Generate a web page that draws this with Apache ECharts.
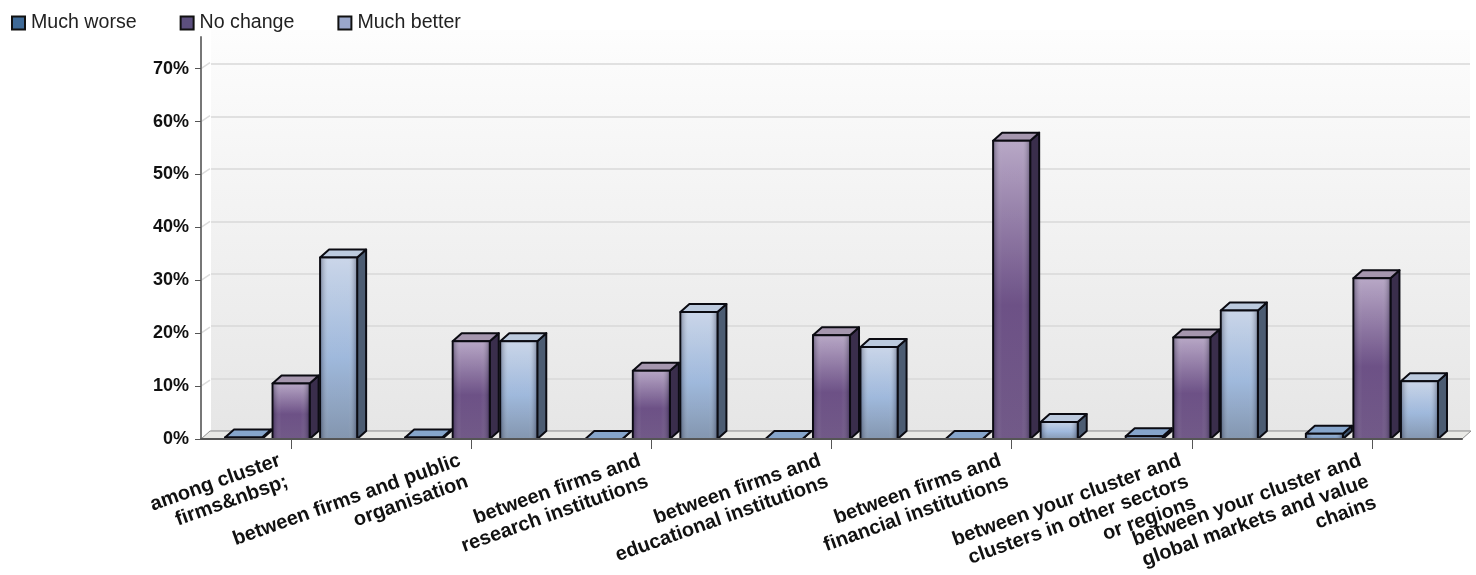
<!DOCTYPE html>
<html><head><meta charset="utf-8">
<style>html,body{margin:0;padding:0;background:#fff}#c{width:1476px;height:575px}</style>
<script src="https://cdn.jsdelivr.net/npm/echarts@6/dist/echarts.min.js"></script>
</head><body><div id="c"></div>
<script>
const categories = [
  "among cluster\nfirms&nbsp;",
  "between firms and public\norganisation",
  "between firms and\nresearch institutions",
  "between firms and\neducational institutions",
  "between firms and\nfinancial institutions",
  "between your cluster and\nclusters in other sectors\nor regions",
  "between your cluster and\nglobal markets and value\nchains"
];
const muchWorse  = [0.3, 0.3, 0, 0, 0, 0.5, 1];
const noChange   = [10.5, 18.5, 12.9, 19.6, 56.4, 19.2, 30.4];
const muchBetter = [34.3, 18.5, 24, 17.4, 3.2, 24.3, 10.9];
const yTicks = [0, 10, 20, 30, 40, 50, 60, 70];

const DX = 9, DY = 8;
const palettes = {
  worse: {legend:'#3f6a97', stops:['#a9c0dc','#7f9fc8','#6d8cb4'], top:'#86a5cb', side:'#3f556f'},
  same:  {legend:'#5c4f7e', stops:['#b5a4c4','#654880','#6a5182'], top:'#a596ae', side:'#3a2e4c'},
  better:{legend:'#9aa7cb', stops:['#c8d4e8','#9ab5da','#7d90aa'], top:'#bccade', side:'#4c5c72'}
};
function bar3d(offsetRatio, pal){
  return function(params, api){
    const cat = api.value(0), val = api.value(1);
    const base = api.coord([cat, 0]), top = api.coord([cat, val]);
    const band = api.size([1,0])[0];
    const w = band * 0.2056;
    const x = base[0] + band * offsetRatio - w/2;
    const y0 = base[1], y1 = top[1];
    const st = {stroke:'#0b0b12', lineWidth:2, lineJoin:'round'};
    const kids = [
      {type:'polygon', shape:{points:[[x+w,y1],[x+w+DX,y1-DY],[x+w+DX,y0-DY],[x+w,y0]]}, style:Object.assign({fill:pal.side},st)},
      {type:'polygon', shape:{points:[[x,y1],[x+DX,y1-DY],[x+w+DX,y1-DY],[x+w,y1]]}, style:Object.assign({fill:pal.top},st)},
      {type:'rect', shape:{x:x,y:y1,width:w,height:y0-y1}, style:Object.assign({fill:{type:'linear',x:0,y:0,x2:0,y2:1,colorStops:[
        {offset:0,color:pal.stops[0]},{offset:0.55,color:pal.stops[1]},{offset:1,color:pal.stops[2]}]}},st)},
      {type:'rect', shape:{x:x+1,y:y1+1,width:Math.max(w-2,0),height:Math.max(y0-y1-2,0)}, style:{fill:{type:'linear',x:0,y:0,x2:1,y2:0,colorStops:[
        {offset:0,color:'rgba(30,30,50,0.32)'},{offset:0.22,color:'rgba(255,255,255,0.05)'},{offset:0.78,color:'rgba(255,255,255,0.05)'},{offset:1,color:'rgba(30,30,50,0.32)'}]}}}
    ];
    return {type:'group', children:kids};
  };
}
function seriesOf(name, values, off, pal){
  return {name, type:'custom', xAxisIndex:0, yAxisIndex:0, z:5,
    itemStyle:{color:pal.legend, borderColor:'#111', borderWidth:1.5},
    encode:{x:0,y:1}, data:values.map((v,i)=>[i,v]), renderItem:bar3d(off,pal), silent:true};
}
function floorItem(params, api){
  const cs = params.coordSys;
  const y0 = api.coord([0,0])[1];
  const xl = cs.x, xr = cs.x + cs.width;
  const kids = [
    {type:'polygon', shape:{points:[[xl,y0],[xl+DX,y0-DY],[xr+DX,y0-DY],[xr,y0]]}, style:{fill:'#e9e9e6', stroke:'#8f8f8f', lineWidth:1}}
  ];
  yTicks.slice(1).forEach(t=>{
    const y = api.coord([0,t])[1];
    kids.push({type:'line', shape:{x1:xl,y1:y,x2:xl+DX,y2:y-DY+2}, style:{stroke:'#dcdcdc', lineWidth:1.5}});
  });
  return {type:'group', children:kids};
}
const chart = echarts.init(document.getElementById('c'), null, {renderer:'canvas'});
chart.setOption({
  animation:false,
  backgroundColor:'#fff',
  legend:{left:6, top:8, icon:'rect', itemWidth:13, itemHeight:13, itemGap:43, selectedMode:false,
    data:['Much worse','No change','Much better'],
    textStyle:{fontFamily:'Liberation Sans', fontSize:19.6, color:'#222', padding:[1,0,0,1]}},
  grid:[
    {left:201, top:37, width:1261, height:402, z:2, outerBoundsMode:'none'},
    {left:211, top:30, width:1259, height:401, show:true, borderWidth:0, z:0, outerBoundsMode:'none',
      backgroundColor:{type:'linear',x:0,y:0,x2:0,y2:1,colorStops:[{offset:0,color:'#fdfdfd'},{offset:1,color:'#e6e6e6'}]}}
  ],
  xAxis:[
    {type:'category', gridIndex:0, data:categories, boundaryGap:true, z:6,
     axisLine:{show:true, lineStyle:{color:'#555', width:2}},
     axisTick:{show:true, alignWithLabel:true, length:10, lineStyle:{color:'#555', width:1}},
     axisLabel:{interval:0, rotate:19.5, margin:5, padding:[0,16,0,0], hideOverlap:false, align:'right', verticalAlign:'top', fontFamily:'Liberation Sans', fontWeight:'bold', fontSize:20, lineHeight:22.5, color:'#111'}},
    {type:'category', gridIndex:1, data:categories, show:false}
  ],
  yAxis:[
    {type:'value', gridIndex:0, min:0, max:76, interval:10, z:6,
     axisLine:{show:true, lineStyle:{color:'#777', width:2}},
     axisTick:{show:true, length:6, lineStyle:{color:'#555', width:1}},
     splitLine:{show:false},
     axisLabel:{showMaxLabel:false, margin:12, formatter:v=>v+'%', fontFamily:'Liberation Sans', fontWeight:'bold', fontSize:18, color:'#111'}},
    {type:'value', gridIndex:1, min:0, max:76.5, interval:10,
     axisLine:{show:false}, axisTick:{show:false}, axisLabel:{show:false},
     splitLine:{show:true, showMaxLine:false, lineStyle:{color:'#d8d8d8', width:1.5}}}
  ],
  series:[
    {type:'custom', name:'floor', xAxisIndex:0, yAxisIndex:0, z:1, silent:true, data:[[0,0]], encode:{x:0,y:1}, renderItem:floorItem},
    seriesOf('Much worse', muchWorse, -0.2639, palettes.worse),
    seriesOf('No change', noChange, 0, palettes.same),
    seriesOf('Much better', muchBetter, 0.2639, palettes.better)
  ]
});
</script></body></html>
